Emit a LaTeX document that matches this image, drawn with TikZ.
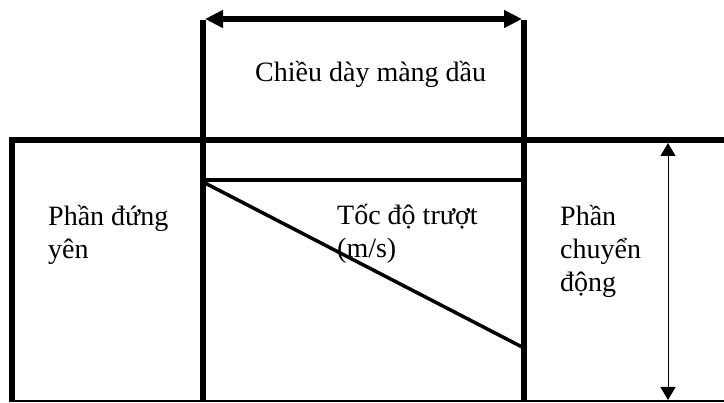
\documentclass[tikz,border=0pt]{standalone}
\usepackage{fontspec}
\setmainfont{Liberation Serif}
\usetikzlibrary{arrows.meta}

\begin{document}
\begin{tikzpicture}[x=1pt, y=-1pt,
    wall/.style={line width=5.5pt},
    film/.style={line width=3.5pt},
    txt/.style={inner sep=0pt, anchor=base west, align=left,
      font=\fontsize{28}{33}\selectfont}]
  \useasboundingbox (0,0) rectangle (724,403);

  % corner points of the oil film and the two parts
  \coordinate (topL) at (203,20);
  \coordinate (topR) at (524,20);
  \coordinate (botL) at (203,402);
  \coordinate (botR) at (524,402);
  \coordinate (filmL) at (203,180);
  \coordinate (filmR) at (524,180);
  \coordinate (slopeL) at (203,182);
  \coordinate (slopeR) at (524,348);
  \coordinate (gapL) at (205,19);
  \coordinate (gapR) at (522,19);
  \coordinate (moveT) at (668,143);
  \coordinate (moveB) at (668,400);

  % outline of the two parts
  \draw[wall, line join=miter] (12,402) -- (12,140) -- (724,140);
  \draw[line width=2pt] (9,401.5) -- (724,401.5);
  \draw[wall] (topL) -- (botL);
  \draw[wall] (topR) -- (botR);

  % velocity profile in the film
  \draw[film] (filmL) -- (filmR);
  \draw[film] (slopeL) -- (slopeR);

  % dimension arrows
  \draw[wall, {Triangle[length=18pt,width=17pt]}-{Triangle[length=18pt,width=17pt]}] (gapL) -- (gapR);
  \draw[line width=1pt, {Triangle[length=13pt,width=15pt]}-{Triangle[length=13pt,width=15pt]}] (moveT) -- (moveB);

  % labels (anchored on the last line's baseline)
  \node[txt] (gap) at (255,82) {Chiều dày màng dầu};
  \node[txt] (fixed) at (48,259) {Phần đứng\\yên};
  \node[txt] (speed) at (337,258) {Tốc độ trượt\\(m/s)};
  \node[txt] (moving) at (560,292) {Phần\\chuyển\\động};
\end{tikzpicture}
\end{document}
